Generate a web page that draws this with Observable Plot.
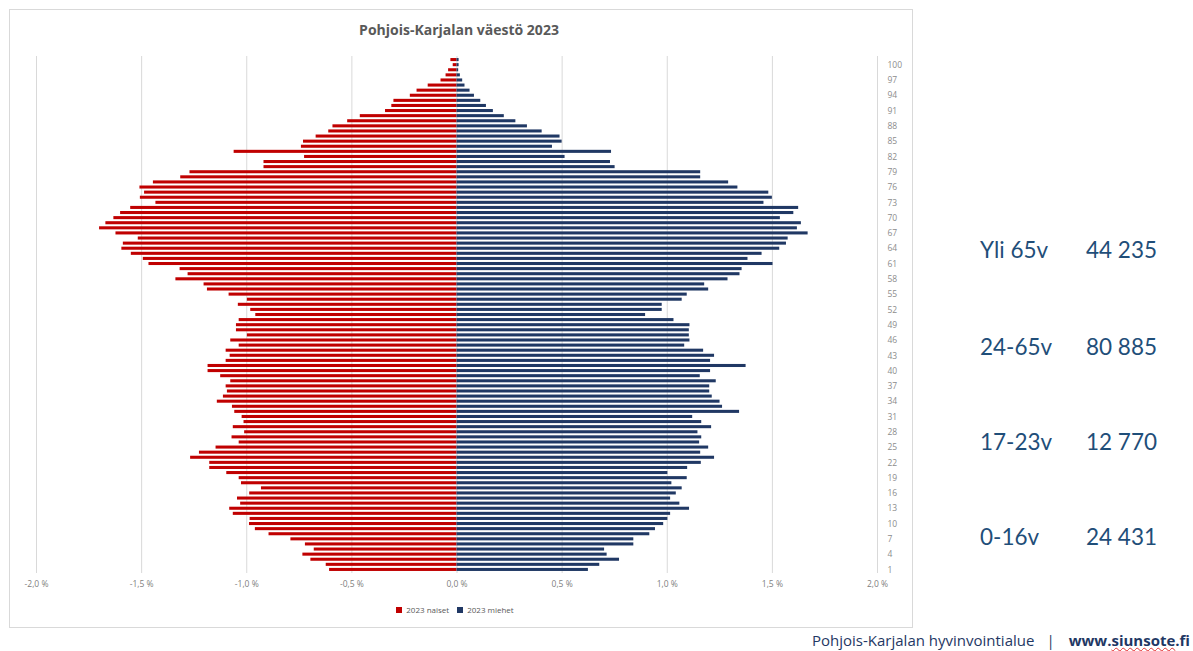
<!DOCTYPE html>
<html><head><meta charset="utf-8">
<script src="https://cdn.jsdelivr.net/npm/d3@7"></script>
<script src="https://cdn.jsdelivr.net/npm/@observablehq/plot@0.6"></script>
<style>
body{margin:0;background:#fff;width:1193px;height:651px;position:relative;overflow:hidden;font-family:"Open Sans",sans-serif;}
#box{position:absolute;left:9px;top:9px;width:904px;height:619px;border:1px solid #d9d9d9;box-sizing:border-box;}
#title{position:absolute;left:0;width:918px;top:20px;text-align:center;font-weight:bold;font-size:14px;color:#595959;}
#chart{position:absolute;left:0;top:0;}
#legend{position:absolute;left:0;width:918px;top:593px;display:flex;justify-content:center;}
#legend div,#legend span{font-size:8px !important;color:#595959;font-family:"Open Sans",sans-serif;}
.stat{position:absolute;font-family:Lato,sans-serif;font-size:22.5px;line-height:22px;color:#1f4e79;white-space:nowrap;}
#footer{position:absolute;left:812px;top:630px;font-size:15px;line-height:20px;color:#1f3864;white-space:nowrap;}
#footer .bar{margin:0 14px 0 12px;}
#footer b{font-weight:bold;}
#footer .sp{text-decoration:underline wavy #e03030;text-decoration-thickness:1px;text-underline-offset:1px;}
</style></head>
<body>
<div id="box"></div>
<div id="title">Pohjois-Karjalan väestö 2023</div>
<div id="chart"></div>
<div id="legend"></div>
<div id="stats"></div>
<div id="footer">Pohjois-Karjalan hyvinvointialue<span class="bar">|</span><b>www.<span class="sp">siunsote</span>.fi</b></div>
<script>
const ages = d3.range(1, 102);
const naiset = [
0.606,0.622,0.695,0.733,0.679,0.721,0.790,0.894,0.959,0.987,
0.984,1.064,1.081,1.029,1.044,0.986,0.930,1.025,1.036,1.095,
1.176,1.176,1.267,1.225,1.146,1.036,1.070,1.010,1.064,1.013,
1.022,1.057,1.068,1.140,1.111,1.092,1.098,1.076,1.124,1.184,
1.184,1.098,1.079,1.098,1.036,1.076,0.997,1.049,1.049,1.036,
0.957,0.981,1.040,0.997,1.084,1.187,1.203,1.337,1.279,1.317,
1.465,1.492,1.549,1.594,1.587,1.516,1.622,1.700,1.670,1.632,
1.600,1.552,1.432,1.506,1.486,1.508,1.444,1.314,1.270,0.918,
0.918,0.725,1.060,0.740,0.730,0.670,0.610,0.590,0.520,0.460,
0.340,0.310,0.300,0.222,0.190,0.137,0.076,0.052,0.040,0.018,
0.029];
const miehet = [
0.625,0.679,0.773,0.714,0.702,0.841,0.841,0.917,0.944,0.983,
1.003,1.016,1.106,1.060,1.016,1.043,1.071,1.022,1.095,1.003,
1.097,1.162,1.225,1.159,1.197,1.154,1.164,1.146,1.211,1.164,
1.121,1.344,1.263,1.251,1.214,1.202,1.202,1.233,1.157,1.206,
1.375,1.206,1.225,1.173,1.083,1.108,1.105,1.105,1.108,1.032,
0.897,0.976,0.976,1.071,1.095,1.197,1.178,1.289,1.346,1.356,
1.503,1.384,1.451,1.535,1.567,1.575,1.670,1.619,1.638,1.538,
1.602,1.625,1.460,1.500,1.483,1.336,1.292,1.159,1.159,0.752,
0.730,0.514,0.735,0.454,0.500,0.490,0.405,0.335,0.280,0.225,
0.173,0.140,0.113,0.083,0.062,0.038,0.027,0.016,0.008,0.010,
0.010];
const xTicks = [-2, -1.5, -1, -0.5, 0, 0.5, 1, 1.5, 2];
const yTicks = [1,4,7,10,13,16,19,22,25,28,31,34,37,40,43,46,49,52,55,58,61,64,67,70,73,76,79,82,85,88,91,94,97,100];
const seriesNames = ["2023 naiset", "2023 miehet"];
const seriesColors = ["#c00000", "#203864"];
const groupLabels = ["Yli 65v", "24-65v", "17-23v", "0-16v"];
const groupValues = ["44 235", "80 885", "12 770", "24 431"];

const rows = ages.map((a, i) => ({age: a, naiset: naiset[i], miehet: miehet[i]}));
const fmt = d => d.toFixed(1).replace(".", ",") + " %";

const chart = Plot.plot({
  width: 918, height: 603,
  marginLeft: 36, marginRight: 41, marginTop: 56, marginBottom: 30,
  style: {background: "transparent", fontFamily: "Open Sans, sans-serif", overflow: "visible"},
  x: {domain: [-2, 2]},
  y: {domain: ages.slice().reverse(), padding: 0.4, round: false},
  marks: [
    Plot.gridX(xTicks, {stroke: "#d9d9d9", strokeOpacity: 1}),
    Plot.barX(rows, {x1: 0, x2: d => -d.naiset, y: "age", fill: seriesColors[0]}),
    Plot.barX(rows, {x1: 0, x2: "miehet", y: "age", fill: seriesColors[1]}),
    Plot.axisX({ticks: xTicks, tickFormat: fmt, tickSize: 0, tickPadding: 7, fontSize: 8.5, color: "#808080", label: null}),
    Plot.axisY({anchor: "right", ticks: yTicks, tickSize: 0, tickPadding: 10, fontSize: 8.5, color: "#8c8c8c", label: null})
  ]
});
document.getElementById("chart").appendChild(chart);

const leg = Plot.legend({color: {type: "categorical", domain: seriesNames, range: seriesColors}, swatchSize: 6});
document.getElementById("legend").appendChild(leg);

const stats = document.getElementById("stats");
const statY = [239, 336, 431, 526];
groupLabels.forEach((g, i) => {
  const a = document.createElement("div");
  a.className = "stat"; a.style.left = "980px"; a.style.top = statY[i] + "px"; a.textContent = g;
  const b = document.createElement("div");
  b.className = "stat"; b.style.left = "1086px"; b.style.top = statY[i] + "px"; b.textContent = groupValues[i];
  stats.appendChild(a); stats.appendChild(b);
});
</script>
</body></html>
